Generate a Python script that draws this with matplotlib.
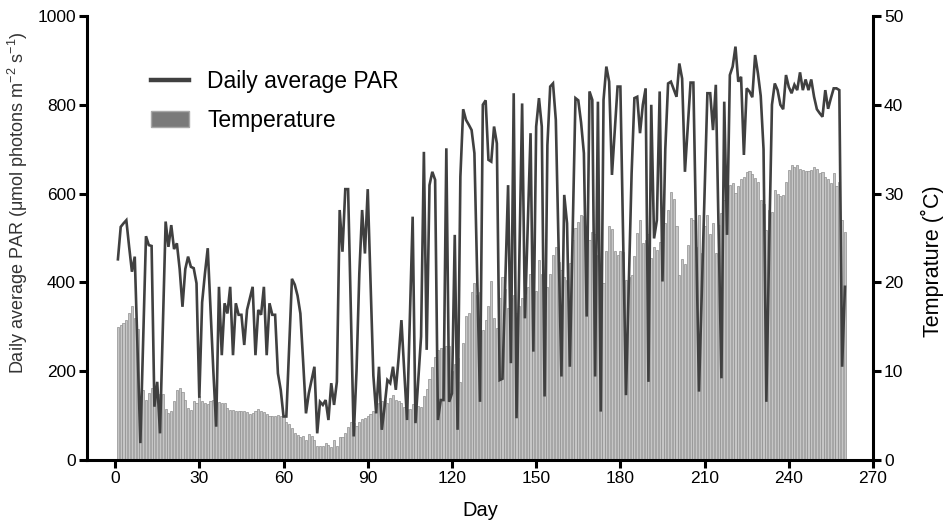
import numpy as np
import matplotlib
matplotlib.use('Agg')
import matplotlib.pyplot as plt
from matplotlib.lines import Line2D
from matplotlib.patches import Patch

plt.rcParams['font.family'] = ['Liberation Sans', 'DejaVu Sans']

days = list(range(1, 261))

# daily average PAR (umol photons m-2 s-1)
par = [452, 525, 533, 540, 480, 424, 458, 250, 38, 270,
       504, 484, 482, 120, 176, 60, 300, 537, 480, 529,
       475, 488, 430, 345, 430, 458, 435, 432, 398, 140,
       355, 420, 477, 340, 200, 75, 390, 236, 353, 330,
       390, 236, 353, 327, 327, 259, 338, 364, 390, 236,
       338, 327, 390, 236, 353, 327, 327, 195, 158, 98,
       98, 250, 408, 395, 370, 330, 220, 105, 150, 180,
       210, 60, 131, 124, 135, 90, 173, 124, 176, 563,
       469, 610, 610, 330, 53, 200, 420, 563, 465, 610,
       400, 190, 105, 210, 68, 120, 180, 173, 210, 158,
       230, 315, 200, 90, 320, 548, 83, 180, 278, 694,
       248, 619, 649, 631, 90, 135, 135, 702, 131, 150,
       507, 68, 638, 790, 766, 755, 743, 691, 410, 131,
       800, 810, 676, 672, 751, 713, 180, 183, 400, 619,
       218, 826, 94, 450, 803, 319, 530, 736, 244, 751,
       815, 751, 143, 709, 841, 848, 766, 480, 188, 597,
       533, 210, 510, 815, 810, 760, 691, 323, 830, 811,
       188, 807, 109, 811, 886, 852, 642, 740, 841, 841,
       490, 146, 395, 645, 815, 818, 736, 800, 837, 176,
       800, 499, 540, 830, 402, 700, 848, 852, 835, 818,
       893, 859, 649, 750, 850, 850, 500, 154, 380, 600,
       826, 826, 743, 845, 510, 184, 807, 507, 867, 886,
       931, 852, 863, 687, 837, 830, 817, 912, 871, 820,
       700, 131, 480, 800, 848, 833, 800, 790, 867, 840,
       826, 845, 833, 873, 833, 857, 833, 857, 818, 790,
       781, 773, 833, 791, 815, 837, 837, 833, 210, 390]

# daily temperature (C)
temp = [15.0, 15.2, 15.4, 15.8, 16.5, 17.3, 16.0, 14.8, 3.0, 7.9,
        6.8, 7.5, 8.1, 7.4, 7.5, 7.4, 7.4, 5.7, 5.3, 5.5,
        6.6, 7.9, 8.1, 7.7, 6.8, 5.8, 5.6, 6.6, 6.4, 7.2,
        6.6, 6.4, 6.3, 6.6, 6.7, 6.5, 6.5, 6.4, 6.4, 5.8,
        5.6, 5.6, 5.5, 5.5, 5.5, 5.5, 5.4, 5.2, 5.3, 5.5,
        5.7, 5.5, 5.4, 5.2, 5.0, 5.0, 4.9, 5.1, 5.0, 4.9,
        4.3, 4.1, 3.6, 3.0, 2.8, 2.6, 2.7, 2.3, 2.9, 2.7,
        2.3, 1.6, 1.6, 1.6, 1.9, 1.7, 1.5, 2.2, 1.6, 2.6,
        2.6, 3.0, 3.7, 4.3, 4.2, 3.8, 4.3, 4.6, 4.7, 4.9,
        5.2, 5.5, 6.1, 6.4, 6.6, 6.7, 6.4, 7.0, 7.3, 6.8,
        6.6, 6.4, 6.0, 5.7, 5.7, 6.3, 6.0, 6.1, 6.0, 7.2,
        8.0, 9.1, 10.5, 11.6, 12.4, 12.6, 12.6, 12.8, 12.8, 10.0,
        10.8, 11.5, 8.8, 13.2, 16.2, 16.6, 18.9, 19.9, 18.6, 18.9,
        14.6, 15.8, 17.3, 20.1, 16.0, 14.9, 18.2, 20.6, 19.2, 17.1,
        18.2, 18.6, 16.5, 17.3, 18.2, 18.5, 19.5, 21.0, 19.7, 19.0,
        22.5, 21.0, 20.3, 19.5, 20.9, 23.1, 24.0, 22.3, 21.4, 20.6,
        20.3, 22.2, 24.8, 26.1, 26.8, 27.6, 27.5, 26.3, 24.8, 25.7,
        25.5, 23.1, 21.0, 19.9, 23.5, 26.3, 26.0, 23.5, 23.1, 23.5,
        23.4, 20.3, 20.6, 20.8, 23.0, 25.6, 27.0, 24.4, 24.8, 25.5,
        22.7, 24.0, 23.7, 24.6, 25.1, 26.7, 28.2, 30.2, 29.4, 26.3,
        20.8, 22.6, 22.1, 24.2, 27.2, 27.0, 24.0, 27.6, 23.3, 26.3,
        27.6, 25.5, 26.7, 23.3, 26.5, 27.8, 29.3, 30.6, 31.0, 31.2,
        30.1, 30.8, 31.6, 31.9, 32.4, 32.5, 32.2, 31.7, 31.3, 29.3,
        28.8, 25.9, 28.2, 27.9, 30.4, 30.0, 29.7, 29.8, 31.3, 32.7,
        33.2, 33.0, 33.2, 32.8, 32.7, 32.5, 32.5, 32.7, 33.0, 32.8,
        32.3, 32.4, 31.9, 31.6, 31.2, 32.3, 30.9, 31.3, 27.0, 25.7]

fig = plt.figure(figsize=(9.44, 5.22), dpi=100)
ax = fig.add_axes([0.0922, 0.1188, 0.8326, 0.8506])
ax2 = ax.twinx()

# temperature bars on the right axis, PAR line on top
ax2.bar(days, temp, width=0.75, color='#c6c6c6', edgecolor='#8e8e8e', linewidth=0.5)
ax.set_zorder(ax2.get_zorder() + 1)
ax.patch.set_visible(False)
ax.plot(days, par, color='#404040', linewidth=1.9, solid_joinstyle='miter')

ax.set_xlim(-10, 270)
ax.set_ylim(0, 1000)
ax2.set_ylim(0, 50)
ax.set_xticks(range(0, 271, 30))
ax.set_yticks(range(0, 1001, 200))
ax2.set_yticks(range(0, 51, 10))

for a in (ax, ax2):
    a.spines['top'].set_visible(False)
    for s in ('left', 'right', 'bottom'):
        a.spines[s].set_linewidth(2.2)
    a.tick_params(width=2.2, length=6, labelsize=12.5, pad=2)
ax.spines['right'].set_visible(False)
ax2.spines['left'].set_visible(False)
ax2.spines['bottom'].set_visible(False)

ax.set_xlabel('Day', fontsize=14.5)
ax.xaxis.set_label_coords(0.5, -0.092)
ax.set_ylabel('Daily average PAR (μmol photons m$^{\\mathregular{-2}}$ s$^{\\mathregular{-1}}$)',
              fontsize=13, color='#333333')
ax.yaxis.set_label_coords(-0.072, 0.579)
ax2.set_ylabel('Temprature (˚C)', fontsize=15.5)
ax2.yaxis.set_label_coords(1.061, 0.448)

handles = [Line2D([0], [0], color='#404040', linewidth=3.2),
           Patch(facecolor='#7a7a7a', edgecolor='#a8a8a8')]
ax.legend(handles, ['Daily average PAR', 'Temperature'], loc='upper left',
          bbox_to_anchor=(0.055, 0.925), frameon=False, fontsize=16.5,
          handlelength=1.65, handletextpad=0.8, labelspacing=0.7)

fig.savefig('out.png', dpi=100)
